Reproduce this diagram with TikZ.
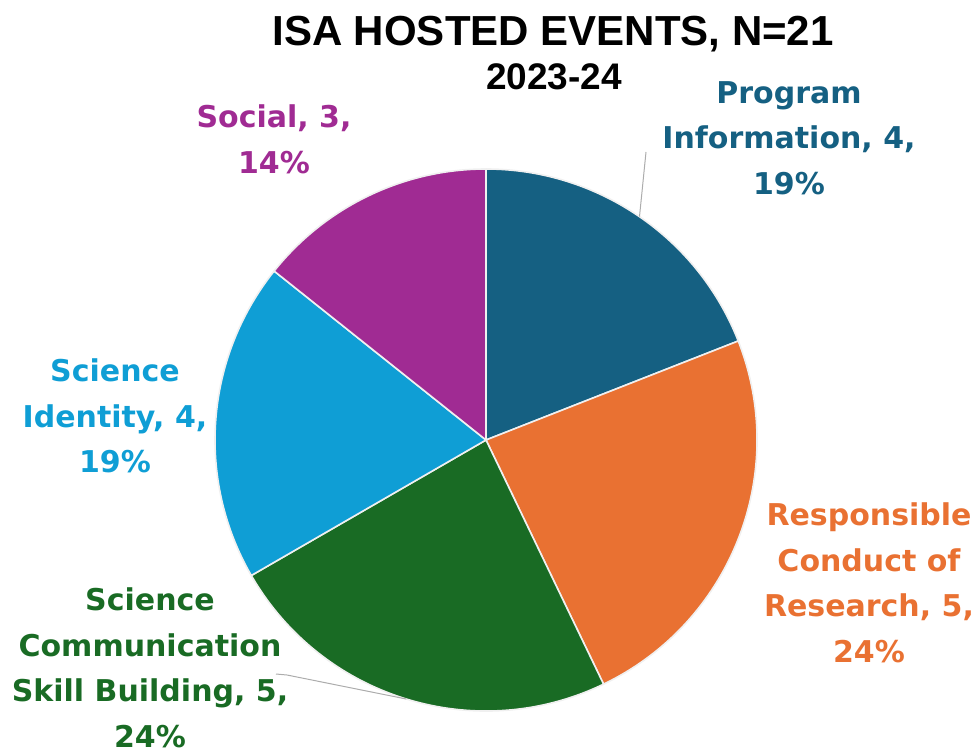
\documentclass[tikz,border=0pt]{standalone}
\usepackage{fontspec}
\setmainfont{DejaVu Sans}
\newfontfamily\titlefont{Liberation Sans}
\usepackage{xcolor}
\usepackage{tikz}
\definecolor{progblue}{HTML}{156082}
\definecolor{rcrorange}{HTML}{E97132}
\definecolor{commgreen}{HTML}{196B24}
\definecolor{identblue}{HTML}{0F9ED5}
\definecolor{socialpurple}{HTML}{A02B93}
\tikzset{
  Slice/.style={draw=white!88!gray, line width=1.6pt, line join=round},
  SliceLabel/.style={font=\bfseries\fontsize{30}{45.5}\selectfont, align=center, anchor=north, inner sep=0pt},
  Leader/.style={draw=gray!65, line width=1pt}
}

\begin{document}
\begin{tikzpicture}[x=1pt,y=1pt]
\useasboundingbox (0,0) rectangle (977,748);
\begin{scope}[shift={(486,308)}]
\filldraw[Slice, fill=progblue] (0,0) -- (90:271) arc[start angle=90, end angle=21.43, radius=271] -- cycle;
\filldraw[Slice, fill=rcrorange] (0,0) -- (21.43:271) arc[start angle=21.43, end angle=-64.29, radius=271] -- cycle;
\filldraw[Slice, fill=commgreen] (0,0) -- (-64.29:271) arc[start angle=-64.29, end angle=-150, radius=271] -- cycle;
\filldraw[Slice, fill=identblue] (0,0) -- (-150:271) arc[start angle=-150, end angle=-218.57, radius=271] -- cycle;
\filldraw[Slice, fill=socialpurple] (0,0) -- (141.43:271) arc[start angle=141.43, end angle=90, radius=271] -- cycle;
\coordinate (progtip) at (55.5:271);
\coordinate (commtip) at (252.9:271);
\end{scope}
\node[font=\titlefont\bfseries\fontsize{42}{50}\selectfont, anchor=base] (title) at (553,702) {ISA HOSTED EVENTS, N=21};
\node[font=\titlefont\bfseries\fontsize{37}{44}\selectfont, anchor=base] (year) at (554,658) {2023-24};
\node[SliceLabel, text=progblue] (proglabel) at (789,667) {Program\\Information, 4,\\19\%};
\node[SliceLabel, text=rcrorange] (rcrlabel) at (869,245) {Responsible\\Conduct of\\Research, 5,\\24\%};
\node[SliceLabel, text=commgreen] (commlabel) at (150,160) {Science\\Communication\\Skill Building, 5,\\24\%};
\node[SliceLabel, text=identblue] (identlabel) at (115,389) {Science\\Identity, 4,\\19\%};
\node[SliceLabel, text=socialpurple] (sociallabel) at (274,643) {Social, 3,\\14\%};
\coordinate (progfoot) at (646,596);
\coordinate (commfoot) at (276,74);
\coordinate (commbend) at (287,73);
\draw[Leader] (progfoot) -- (progtip);
\draw[Leader] (commfoot) -- (commbend) -- (commtip);
\end{tikzpicture}
\end{document}
